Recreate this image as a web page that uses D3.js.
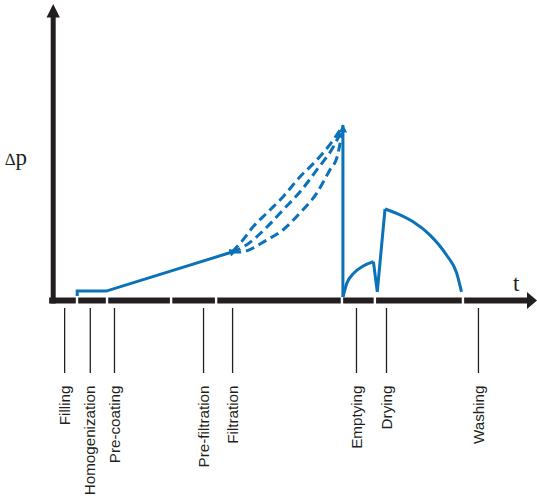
<!DOCTYPE html>
<html>
<head>
<meta charset="utf-8">
<script src="https://cdn.jsdelivr.net/npm/d3@7"></script>
<style>
  body { margin: 0; background: #fff; }
  svg { display: block; }
</style>
</head>
<body>
<svg id="chart"></svg>
<script>
const WIDTH = 537;
const HEIGHT = 502;
const INK = "#231f20";
const BLUE = "#0b71b9";

// phase labels and where their tick sits on the t axis (0..100)
const phases = ["Filling", "Homogenization", "Pre-coating", "Pre-filtration", "Filtration", "Emptying", "Drying", "Washing"];
const phaseTicks = [2.3, 7.6, 12.6, 31.0, 37.0, 62.6, 68.8, 87.8];
// breaks in the thick time axis between phases
const phaseBounds = [4.96, 11.16, 24.4, 33.7, 59.7, 66.5, 84.7];

// pressure curve, t (0..100) / dp (0..100)
const fillLine = [[5.0, 2.3], [5.0, 5.1], [11.0, 5.1], [37.0, 27.4]];
const dashTop = [[37.0, 27.4], [39.0, 33.5], [41.3, 41.7], [44.2, 49.7], [47.5, 58.9], [51.0, 70.3], [54.5, 80.0], [57.9, 91.4], [59.7, 98.9]];
const dashMid = [[37.0, 27.4], [39.3, 30.3], [44.2, 41.7], [47.5, 51.4], [51.0, 61.7], [54.5, 74.3], [57.9, 87.4], [59.7, 97.1]];
const dashLow = [[37.0, 27.4], [38.6, 27.4], [44.2, 34.3], [47.5, 40.0], [51.0, 49.7], [54.5, 61.1], [57.2, 74.3], [58.7, 81.7], [59.7, 95.4]];
const dropLine = [[59.9, 100], [59.9, 1.7]];
const emptyArc = [[59.9, 1.7], [60.7, 9.5], [62.1, 15.2], [64.1, 19.4], [66.2, 21.9]];
const dryJump = [[66.2, 21.9], [67.0, 4.7], [68.6, 52.0]];
const dryArc = [[68.6, 52.0], [71.0, 49.5], [74.4, 44.7], [77.9, 37.1], [81.3, 25.7], [83.4, 15.4], [84.4, 4.6]];

const svg = d3.select("#chart").attr("width", WIDTH).attr("height", HEIGHT);

const x = d3.scaleLinear().domain([0, 100]).range([53, 537]);
const y = d3.scaleLinear().domain([0, 100]).range([300, 125]);
const axisY = 300.5;

// arrow markers
const defs = svg.append("defs");
defs.append("marker")
  .attr("id", "headBlue")
  .attr("viewBox", "0 0 10 10")
  .attr("refX", 3).attr("refY", 5)
  .attr("markerWidth", 4.2).attr("markerHeight", 2.6)
  .attr("orient", "auto")
  .attr("markerUnits", "strokeWidth")
  .append("path").attr("d", "M0,0L10,5L0,10Z").attr("fill", BLUE);
defs.append("marker")
  .attr("id", "headPeak")
  .attr("viewBox", "0 0 10 10")
  .attr("refX", 9).attr("refY", 5)
  .attr("markerWidth", 3.4).attr("markerHeight", 2.8)
  .attr("orient", "auto-start-reverse")
  .attr("markerUnits", "strokeWidth")
  .append("path").attr("d", "M0,0L10,5L0,10Z").attr("fill", BLUE);

// thick axes
svg.append("line")
  .attr("x1", x(-0.8)).attr("x2", 529)
  .attr("y1", axisY).attr("y2", axisY)
  .attr("stroke", INK).attr("stroke-width", 6);
svg.append("path")
  .attr("d", `M${WIDTH},${axisY}L527,${axisY - 8.5}L527,${axisY + 8.5}Z`)
  .attr("fill", INK);

svg.append("line")
  .attr("x1", 53.2).attr("x2", 53.2)
  .attr("y1", axisY + 3).attr("y2", 15)
  .attr("stroke", INK).attr("stroke-width", 5);
svg.append("path")
  .attr("d", "M53.2,4L46.5,17.5L59.9,17.5Z")
  .attr("fill", INK);

// white gaps between phases
svg.append("g")
  .selectAll("line")
  .data(phaseBounds)
  .join("line")
  .attr("x1", (d) => x(d)).attr("x2", (d) => x(d))
  .attr("y1", axisY - 4).attr("y2", axisY + 4)
  .attr("stroke", "#fff").attr("stroke-width", 2.4);

// phase ticks + labels
const phaseAxis = svg.append("g")
  .attr("transform", "translate(0, 308)")
  .call(d3.axisBottom(x).tickValues(phaseTicks).tickFormat((d, i) => phases[i]).tickSize(65).tickSizeOuter(0));
phaseAxis.select(".domain").remove();
phaseAxis.selectAll(".tick line").attr("stroke", INK).attr("stroke-width", 1.3);
phaseAxis.selectAll(".tick text")
  .attr("transform", "rotate(-90)")
  .attr("x", -77.5).attr("y", 0)
  .attr("dy", "0.34em")
  .attr("text-anchor", "end")
  .attr("fill", INK)
  .attr("font-family", "Liberation Sans, Arial, sans-serif")
  .attr("font-size", "15.2px");

// curve
const line = d3.line().x((d) => x(d[0])).y((d) => y(d[1]));
const smooth = d3.line().x((d) => x(d[0])).y((d) => y(d[1])).curve(d3.curveMonotoneX);
const curves = svg.append("g").attr("fill", "none").attr("stroke", BLUE).attr("stroke-width", 3);

curves.append("path").attr("d", line(fillLine)).attr("marker-end", "url(#headBlue)");

[dashTop, dashMid, dashLow].forEach((pts) => {
  curves.append("path").attr("d", smooth(pts)).attr("stroke-dasharray", "9,5");
});

curves.append("path").attr("d", line(dropLine)).attr("marker-start", "url(#headPeak)");
curves.append("path").attr("d", smooth(emptyArc));
curves.append("path").attr("d", line(dryJump)).attr("stroke-linejoin", "miter");
curves.append("path").attr("d", smooth(dryArc));

// axis titles
const dp = svg.append("text")
  .attr("x", 5).attr("y", 165)
  .attr("fill", INK)
  .attr("font-family", "Liberation Serif, Times New Roman, serif");
dp.append("tspan").attr("font-size", "17px").text("∆");
dp.append("tspan").attr("font-size", "23px").text("p");

svg.append("text")
  .attr("x", 513).attr("y", 291)
  .attr("fill", INK)
  .attr("font-family", "Liberation Serif, Times New Roman, serif")
  .attr("font-size", "23px")
  .text("t");
</script>
</body>
</html>
